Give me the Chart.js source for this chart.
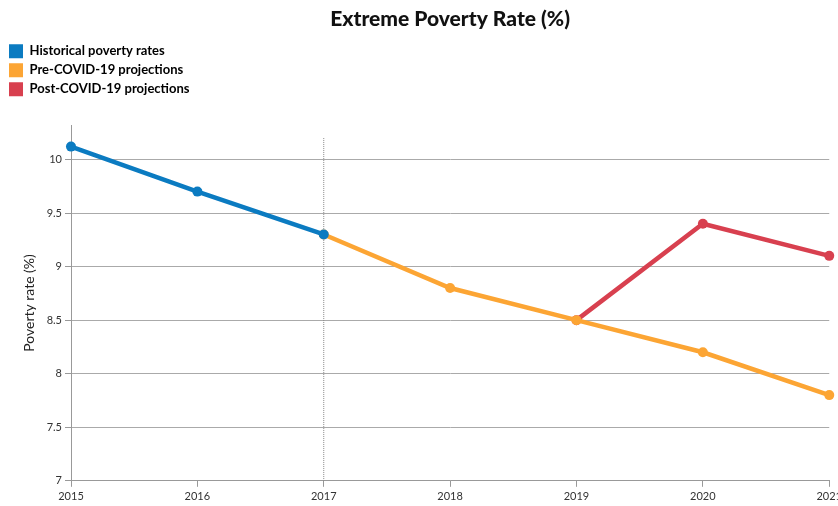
<!DOCTYPE html>
<html>

<head>
    <script src="https://cdn.jsdelivr.net/npm/chart.js"></script>
    <style>
        html, body { margin: 0; padding: 0; background: #fff; overflow: hidden; }
        #wrap { width: 845px; height: 506px; }
    </style>
</head>

<body>
    <div id="wrap"><canvas id="poverty"></canvas></div>
    <script>
        var years = ['2015', '2016', '2017', '2018', '2019', '2020', '2021'];
        var historical = [10.12, 9.7, 9.3, null, null, null, null];
        var preCovid = [null, null, 9.3, 8.8, 8.5, 8.2, 7.8];
        var postCovid = [null, null, null, null, 8.5, 9.4, 9.1];
        var seriesNames = ['Historical poverty rates', 'Pre-COVID-19 projections', 'Post-COVID-19 projections'];
        var yTicks = [7, 7.5, 8, 8.5, 9, 9.5, 10];
        var markerYear = '2017';

        var colors = ['#0b7bc1', '#fca534', '#d8404f'];
        var pad = '                                                                                    ';

        Chart.defaults.font.family = 'Lato, "Open Sans", sans-serif';
        Chart.defaults.color = '#222';

        // dotted line marking the end of the historical data
        var markerLine = {
            id: 'markerLine',
            beforeLayout: function (chart) {
                // leave a gap under the legend like the original
                var lg = chart.legend;
                if (lg && !lg._gap) {
                    var fit = lg.fit;
                    lg.fit = function () { fit.call(this); this.height += 19; };
                    lg._gap = true;
                }
            },
            beforeDatasetsDraw: function (chart) {
                var x = chart.scales.x.getPixelForValue(years.indexOf(markerYear));
                var ctx = chart.ctx;
                ctx.save();
                ctx.strokeStyle = '#888';
                ctx.lineWidth = 1;
                ctx.setLineDash([1, 1]);
                ctx.beginPath();
                ctx.moveTo(x, chart.scales.y.getPixelForValue(10.2));
                ctx.lineTo(x, chart.chartArea.bottom);
                ctx.stroke();
                ctx.restore();
            }
        };

        function line(i, data) {
            return {
                label: seriesNames[i],
                data: data,
                borderColor: colors[i],
                backgroundColor: colors[i],
                borderWidth: 4.5,
                pointRadius: 5,
                pointHoverRadius: 6,
                pointBorderWidth: 0,
                tension: 0
            };
        }

        new Chart(document.getElementById('poverty'), {
            type: 'line',
            data: {
                labels: years,
                datasets: [line(0, historical), line(1, preCovid), line(2, postCovid)]
            },
            plugins: [markerLine],
            options: {
                responsive: true,
                maintainAspectRatio: false,
                animation: false,
                layout: { padding: { left: 4, right: 0, top: 0, bottom: 0 } },
                plugins: {
                    title: {
                        display: true,
                        text: 'Extreme Poverty Rate (%)',
                        fullSize: false,
                        color: '#111',
                        font: { size: 21, weight: '900' },
                        padding: { top: 7, bottom: 7 }
                    },
                    legend: {
                        position: 'top',
                        align: 'start',
                        labels: {
                            boxWidth: 14,
                            boxHeight: 14,
                            padding: 5,
                            color: '#111',
                            font: { size: 13, weight: 'bold' },
                            generateLabels: function (chart) {
                                return chart.data.datasets.map(function (ds, i) {
                                    return {
                                        text: ds.label + pad,
                                        fillStyle: colors[i],
                                        strokeStyle: colors[i],
                                        lineWidth: 0,
                                        datasetIndex: i
                                    };
                                });
                            }
                        }
                    },
                    tooltip: { enabled: false }
                },
                scales: {
                    x: {
                        grid: {
                            display: true,
                            drawOnChartArea: false,
                            tickLength: 6,
                            tickColor: '#999'
                        },
                        border: { display: true, color: '#999' },
                        ticks: { padding: 3, font: { size: 11 }, color: '#333', maxRotation: 0 }
                    },
                    y: {
                        min: 7,
                        max: 10.32,
                        afterBuildTicks: function (scale) {
                            scale.ticks = yTicks.map(function (v) { return { value: v }; });
                        },
                        afterFit: function (scale) { scale.width = 67; },
                        grid: { color: '#aaa', tickLength: 6, tickColor: '#999' },
                        border: { display: true, color: '#999' },
                        ticks: {
                            padding: 3,
                            font: { size: 11 },
                            color: '#333',
                            callback: function (v) { return String(v); }
                        },
                        title: {
                            display: true,
                            text: 'Poverty rate (%)',
                            color: '#222',
                            font: { size: 14 },
                            padding: { top: 17, bottom: 0 }
                        }
                    }
                }
            }
        });
    </script>

</body>

</html>
